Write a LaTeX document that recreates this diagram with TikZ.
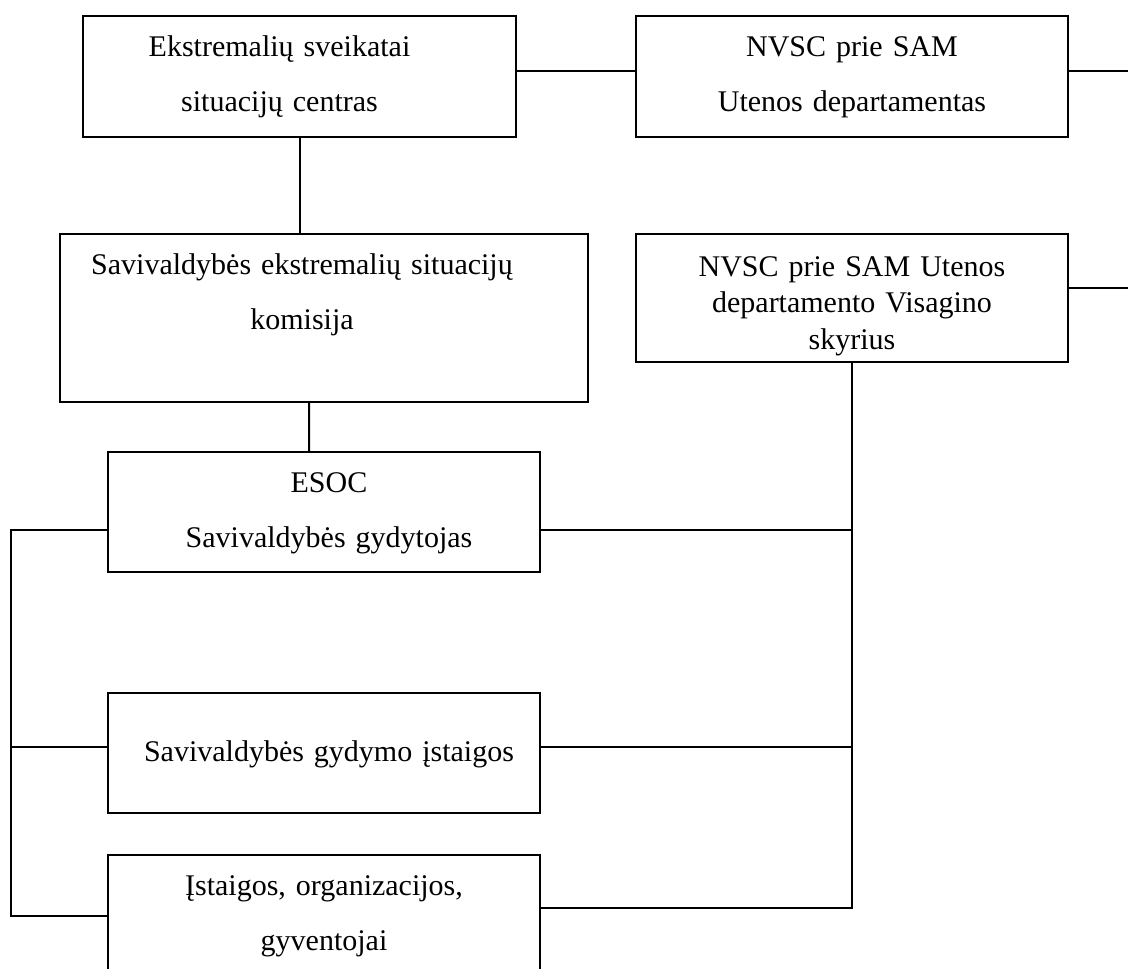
\documentclass[tikz,border=0pt]{standalone}
\usepackage{fontspec}
\setmainfont{Liberation Serif}

\begin{document}
\begin{tikzpicture}[x = 0.4pt, y = -0.4pt, line width = 0.8pt,
	every node/.style = {draw = black, anchor = north west, inner sep = 0pt,
	align = center, text width = 172.8pt, text height = 16pt, text depth = 32.4pt,
	font = \fontsize{12pt}{22pt}\selectfont}]

	\path [use as bounding box, clip] (0, 0) rectangle (1128, 968);

		\node (ESC)  at ( 82,  15) [text width = 173.2pt]
			{Ekstremalių sveikatai\makebox[16pt]{}\\situacijų centras\makebox[16pt]{}};
		\node (NVSC) at (635,  15) {NVSC prie SAM\\Utenos departamentas};
		\node (SEK)  at ( 59, 233) [text width = 211.2pt, text depth = 51.2pt]
			{Savivaldybės ekstremalių situacijų\makebox[17.6pt]{}\\komisija\makebox[17.6pt]{}};
		\node (VIS)  at (635, 233) [text height = 16.8pt, text depth = 34.4pt,
			font = \fontsize{12pt}{14.6pt}\selectfont] {NVSC prie SAM Utenos\\departamento Visagino\\skyrius};
		\node (ESOC) at (107, 451) [text depth = 32pt]
			{\hspace*{4pt}ESOC\\\hspace*{4pt}Savivaldybės gydytojas};
		\node (GYD)  at (107, 692) [text height = 27.2pt, text depth = 20.8pt]
			{\hspace*{4pt}Savivaldybės gydymo įstaigos};
		\node (IST)  at (107, 854) {Įstaigos, organizacijos,\\gyventojai};

		\coordinate (NVSCout) at ([yshift = 2.2pt, xshift = 30pt] NVSC.east);
		\coordinate (VISout)  at ([yshift = 4pt, xshift = 30pt] VIS.east);
		\coordinate (rail)    at ([xshift = -38.4pt] IST.west);

	    \draw ([yshift = 2.2pt] ESC.east) -- ([yshift = 2.2pt] NVSC.west);
	    \draw ([yshift = 2.2pt] NVSC.east) -- (NVSCout);
	    \draw ([yshift = 4pt] VIS.east) -- (VISout);
	    \draw (ESC.south) -- (ESC.south |- SEK.north);
	    \draw ([xshift = -6pt] SEK.south) -- ([xshift = -6pt] ESOC.north);

	    \draw ([yshift = -7.2pt] ESOC.east) -| (VIS.south) |- ([yshift = 3pt] IST.east);
	    \draw ([yshift = -7.2pt] ESOC.west) -| (rail) -- (IST.west);

	    \foreach \org/\shift in {GYD/2.4pt}
	    	\draw ([yshift = \shift] \org.east) -- ([yshift = \shift] \org.east -| VIS.south)
	    		  ([yshift = \shift] \org.west) -- ([yshift = \shift] \org.west -| rail);

\end{tikzpicture}
\end{document}
